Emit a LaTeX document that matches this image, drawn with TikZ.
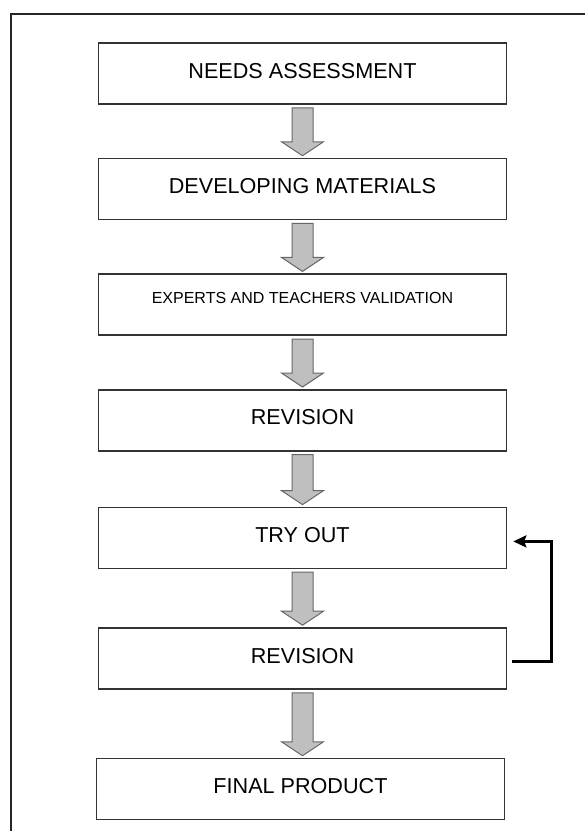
\documentclass[tikz,border=0pt]{standalone}
\usepackage{fontspec}
\setmainfont{Liberation Sans}
\usepackage{tikz}
\usetikzlibrary{arrows.meta,positioning,calc}

\begin{document}
\begin{tikzpicture}[
    node distance=26.5pt,
    box/.style={rectangle, draw=black!80, line width=0.8pt, fill=white, minimum width=204pt, minimum height=30.5pt, text depth=3pt, font=\fontsize{10.8}{13}\selectfont},
    smallbox/.style={box, text depth=7pt, font=\fontsize{8}{10}\selectfont},
    fatarrow/.style={draw=black!60, fill=black!25, line width=0.5pt, line join=miter,
        to path={([xshift=-5.25pt,yshift=-1.5pt]\tikztostart.south)
            -- ($(\tikztostart.south |- \tikztotarget.north)+(-5.25pt,8pt)$)
            -- ($(\tikztostart.south |- \tikztotarget.north)+(-10.5pt,8pt)$)
            -- ($(\tikztostart.south |- \tikztotarget.north)+(0,1pt)$)
            -- ($(\tikztostart.south |- \tikztotarget.north)+(10.5pt,8pt)$)
            -- ($(\tikztostart.south |- \tikztotarget.north)+(5.25pt,8pt)$)
            -- ([xshift=5.25pt,yshift=-1.5pt]\tikztostart.south) -- cycle}},
    loopback/.style={-{Stealth[length=6.5pt,width=6pt,inset=1pt]}, line width=1.5pt},
    frame/.style={draw=black!85, line width=1.25pt}
]
    \useasboundingbox (0,0) rectangle (292.5pt,-415.5pt);
    % outer border, left and top only
    \draw[frame] (5.5pt,-415.5pt) -- (5.5pt,-7pt) -- (292.5pt,-7pt);

    \node[box] (needs) at (151.25pt,-36.75pt) {NEEDS ASSESSMENT};
    \node[box, below=of needs] (develop) {DEVELOPING MATERIALS};
    \node[smallbox, below=of develop] (validate) {EXPERTS AND TEACHERS VALIDATION};
    \node[box, below=of validate] (revise) {REVISION};
    \node[box, below=27.5pt of revise] (tryout) {TRY OUT};
    \node[box, below=29pt of tryout] (revise2) {REVISION};
    \node[box, below=34pt of revise2, xshift=-1pt] (final) {FINAL PRODUCT};

    \draw[fatarrow] (needs) to (develop);
    \draw[fatarrow] (develop) to (validate);
    \draw[fatarrow] (validate) to (revise);
    \draw[fatarrow] (revise) to (tryout);
    \draw[fatarrow] (tryout) to (revise2);
    \draw[fatarrow] (revise2) to (final);
    \draw[loopback] ([xshift=2.5pt,yshift=-1.25pt]revise2.east) -- ++(19.5pt,0) |- ([xshift=3pt,yshift=-1.75pt]tryout.east);
\end{tikzpicture}
\end{document}
